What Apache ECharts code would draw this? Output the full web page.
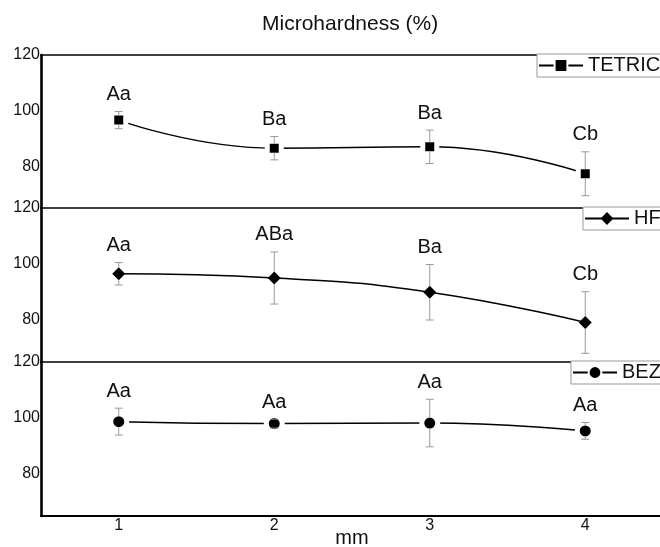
<!DOCTYPE html>
<html>
<head>
<meta charset="utf-8">
<script src="https://cdn.jsdelivr.net/npm/echarts@6/dist/echarts.min.js"></script>
<style>
  html, body { margin: 0; padding: 0; background: #fff; }
  #main { width: 660px; height: 547px; }
</style>
</head>
<body>
<div id="main"></div>
<script>
// x categories (mm) and y ticks shown on each panel
const xCats = ['1', '2', '3', '4'];
const yTicks = [80, 100, 120];

// TETRIC
const tetricMean = [96.6, 86.5, 87.0, 77.3];
const tetricSd = [3.1, 4.2, 6.0, 7.9];
const tetricLetters = ['Aa', 'Ba', 'Ba', 'Cb'];

// HF
const hfMean = [96.5, 95.0, 89.9, 79.1];
const hfSd = [4.0, 9.3, 9.9, 11.0];
const hfLetters = ['Aa', 'ABa', 'Ba', 'Cb'];

// BEZ
const bezMean = [98.7, 98.0, 98.2, 95.4];
const bezSd = [4.8, 1.6, 8.5, 3.0];
const bezLetters = ['Aa', 'Aa', 'Aa', 'Aa'];

const FONT = 'Liberation Sans, Arial, sans-serif';

const panels = [
  { name: 'TETRIC', mean: tetricMean, sd: tetricSd, letters: tetricLetters, symbol: 'rect', size: 9, border: 5, top: 55, height: 153, legendLeft: 537 },
  { name: 'HF', mean: hfMean, sd: hfSd, letters: hfLetters, symbol: 'diamond', size: 13, border: 0, top: 208, height: 154, legendLeft: 583 },
  { name: 'BEZ', mean: bezMean, sd: bezSd, letters: bezLetters, symbol: 'circle', size: 11, border: 5, top: 362, height: 154, legendLeft: 571 }
];

// error bar (split around the marker) + letter label
function errorItem(letters, half) {
  return function (params, api) {
    const i = api.value(0), m = api.value(1), s = api.value(2);
    const top = api.coord([i, m + s]);
    const mid = api.coord([i, m]);
    const bot = api.coord([i, m - s]);
    const cap = 4;
    const st = { stroke: '#9a9a9a', lineWidth: 1 };
    const children = [
      { type: 'line', shape: { x1: top[0] - cap, y1: top[1], x2: top[0] + cap, y2: top[1] }, style: st },
      { type: 'line', shape: { x1: bot[0] - cap, y1: bot[1], x2: bot[0] + cap, y2: bot[1] }, style: st },
      {
        type: 'text',
        style: {
          text: letters[params.dataIndex], x: top[0], y: top[1] - 17,
          align: 'center', verticalAlign: 'middle',
          fontSize: 20, fontFamily: FONT, fill: '#111'
        }
      }
    ];
    if (mid[1] - half > top[1]) {
      children.push({ type: 'line', shape: { x1: top[0], y1: top[1], x2: top[0], y2: mid[1] - half }, style: st });
    }
    if (mid[1] + half < bot[1]) {
      children.push({ type: 'line', shape: { x1: bot[0], y1: mid[1] + half, x2: bot[0], y2: bot[1] }, style: st });
    }
    return { type: 'group', children: children };
  };
}

const grid = [], xAxis = [], yAxis = [], series = [], legend = [];

panels.forEach(function (p, k) {
  grid.push({ left: 41, right: -3, top: p.top, height: p.height, outerBoundsMode: 'none' });
  xAxis.push({
    type: 'category', data: xCats, gridIndex: k, position: 'top', boundaryGap: true,
    axisLine: { show: true, lineStyle: { color: '#000', width: 1.6 } },
    axisTick: { show: false }, axisLabel: { show: false }, splitLine: { show: false }
  });
  yAxis.push({
    type: 'value', gridIndex: k, min: 65, max: 120, interval: 5,
    axisLine: { show: true, lineStyle: { color: '#000', width: 2.6 } },
    axisTick: { show: false }, splitLine: { show: false },
    axisLabel: {
      margin: 1, color: '#111', fontSize: 16, fontFamily: FONT,
      formatter: function (v) { return yTicks.indexOf(v) >= 0 ? String(v) : ''; }
    }
  });
  // white border masks the line next to the marker; size grows to keep the black part
  series.push({
    type: 'line', name: p.name, xAxisIndex: k, yAxisIndex: k, z: 3,
    data: p.mean, smooth: 0.5,
    symbol: p.symbol, symbolSize: p.size + p.border,
    lineStyle: { color: '#000', width: 1.5 },
    itemStyle: { color: '#000', borderColor: '#fff', borderWidth: p.border },
    emphasis: { disabled: true }
  });
  series.push({
    type: 'custom', name: p.name + '-err', xAxisIndex: k, yAxisIndex: k, z: 4,
    renderItem: errorItem(p.letters, p.size / 2),
    data: xCats.map(function (c, i) { return [i, p.mean[i], p.sd[i]]; }),
    silent: true
  });
  legend.push({
    data: [p.name], left: p.legendLeft, top: p.top - 1,
    orient: 'horizontal', itemWidth: 44, itemHeight: 16, itemGap: 0,
    padding: [1, 4, 1, 1],
    backgroundColor: '#fff', borderColor: '#999', borderWidth: 1,
    textStyle: { fontSize: 20, fontFamily: FONT, color: '#111', lineHeight: 21 },
    selectedMode: false
  });
});

// bottom axis with tick labels and name
xAxis.push({
  type: 'category', data: xCats, gridIndex: 2, position: 'bottom', boundaryGap: true,
  axisLine: { show: true, lineStyle: { color: '#000', width: 2 } },
  axisTick: { show: false }, splitLine: { show: false },
  axisLabel: { margin: 2, color: '#111', fontSize: 16, fontFamily: FONT },
  name: 'mm', nameLocation: 'middle', nameGap: 12, nameMoveOverlap: false,
  nameTextStyle: { fontSize: 20, fontFamily: FONT, color: '#111', verticalAlign: 'top' }
});

const chart = echarts.init(document.getElementById('main'), null, { renderer: 'canvas' });
chart.setOption({
  animation: false,
  backgroundColor: '#fff',
  title: {
    text: 'Microhardness (%)', left: 257, top: 9,
    textStyle: { fontSize: 21, fontWeight: 'normal', fontFamily: FONT, color: '#111' }
  },
  grid: grid,
  xAxis: xAxis,
  yAxis: yAxis,
  legend: legend,
  series: series
});
</script>
</body>
</html>
